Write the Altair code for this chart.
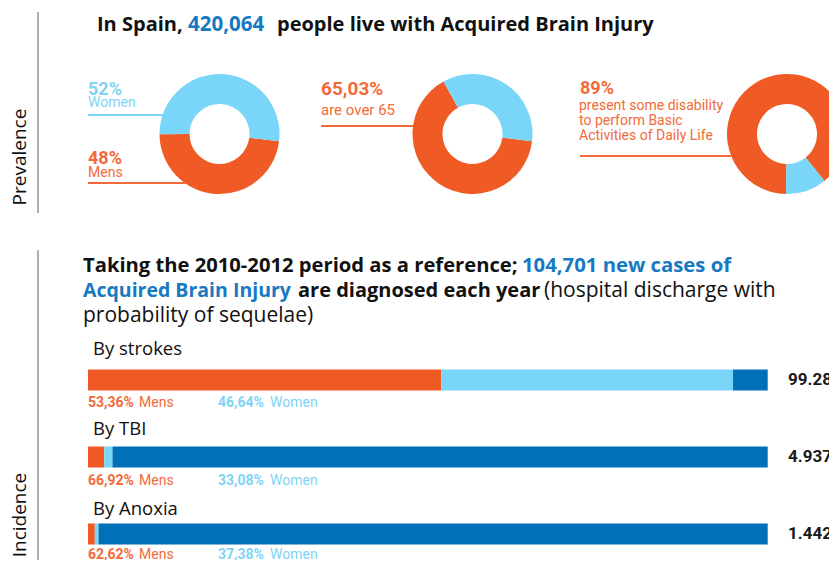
import math
import altair as alt
import pandas as pd

# ---------------- data ----------------
title_parts = ["In Spain,", "420,064", "people live with Acquired Brain Injury"]

sex_categories = ["Mens", "Women"]
sex_share = [48, 52]
age_categories = ["Over 65", "65 or under"]
age_share = [65.03, 34.97]
disab_categories = ["Some disability for BADL", "No disability for BADL"]
disab_share = [89, 11]

incidence_line1 = ["Taking the 2010-2012 period as a reference;", "104,701 new cases of"]
incidence_line2 = ["Acquired Brain Injury", "are diagnosed each year", "(hospital discharge with"]
incidence_line3 = ["probability of sequelae)"]

causes = ["By strokes", "By TBI", "By Anoxia"]
cases_labels = ["99.28", "4.937", "1.442"]
mens_pct = [53.36, 66.92, 62.62]
women_pct = [46.64, 33.08, 37.38]
segments = ["Mens", "Women", "Other causes"]
# bar segment lengths (% of the full bar)
bar_mens = [52.0, 2.4, 1.0]
bar_women = [42.9, 1.2, 0.55]
bar_other = [5.1, 96.4, 98.45]

# ---------------- styles ----------------
OFF = 8
ORANGE = "#F05A24"
ORANGE_T = "#F26A3A"
LBLUE = "#7AD6F9"
LBLUE_T = "#7FD3F5"
DBLUE = "#0070BB"
TBLUE = "#1679C1"
GREY = "#B0B0B0"
HEAD = "Open Sans"
LAB = "Roboto"

color_scale = alt.Scale(
    domain=sex_categories + age_categories + disab_categories + ["Other causes"],
    range=[ORANGE, LBLUE, ORANGE, LBLUE, ORANGE, LBLUE, DBLUE],
)


def txt(s, x, y, size, color="#111111", weight="normal", font=HEAD, angle=0,
        baseline="alphabetic", align="left"):
    return alt.Chart(pd.DataFrame({"t": [s]})).mark_text(
        align=align, baseline=baseline, font=font, fontSize=size,
        fontWeight=weight, color=color, angle=angle,
    ).encode(x=alt.value(x - OFF), y=alt.value(y - OFF), text="t:N")


def rule(x, y, x2, y2, color, w=2):
    return alt.Chart(pd.DataFrame({"a": [0]})).mark_rule(
        color=color, strokeWidth=w
    ).encode(x=alt.value(x - OFF), y=alt.value(y - OFF),
             x2=alt.value(x2 - OFF), y2=alt.value(y2 - OFF))


def donut(cats, vals, cx, cy, start_deg):
    df = pd.DataFrame({"cat": cats, "v": vals, "o": list(range(len(cats)))})
    a = math.radians(start_deg)
    return alt.Chart(df).mark_arc(radius=60, innerRadius=30).encode(
        x=alt.value(cx - OFF), y=alt.value(cy - OFF),
        theta=alt.Theta("v:Q", stack=True,
                        scale=alt.Scale(range=[a, a + 2 * math.pi])),
        color=alt.Color("cat:N", scale=color_scale, legend=None),
        order=alt.Order("o:Q"),
    )


layers = []

# section lines and side titles
layers.append(rule(38, 12, 38, 213, GREY))
layers.append(rule(38, 250, 38, 575, GREY))
layers.append(txt("Prevalence", 20, 157, 19, angle=270, baseline="middle", align="center"))
layers.append(txt("Incidence", 20, 515, 19, angle=270, baseline="middle", align="center"))

# headline
layers.append(txt(title_parts[0], 97, 31, 20, weight="bold"))
layers.append(txt(title_parts[1], 188, 31, 20.5, color=TBLUE, weight="bold"))
layers.append(txt(title_parts[2], 277, 31, 20, weight="bold"))

# donuts
layers.append(donut(sex_categories, sex_share, 219.5, 134, 97))
layers.append(donut(age_categories, age_share, 472.5, 134, 97))
layers.append(donut(disab_categories, disab_share, 787, 134, 181))

# donut labels
layers.append(txt(f"{sex_share[1]}%", 88, 95, 18, color=LBLUE_T, weight="bold", font=LAB))
layers.append(txt(sex_categories[1], 88, 107, 14, color=LBLUE_T, font=LAB))
layers.append(rule(88, 115, 163, 115, LBLUE))
layers.append(txt(f"{sex_share[0]}%", 88, 164, 18, color=ORANGE_T, weight="bold", font=LAB))
layers.append(txt(sex_categories[0], 88, 177, 14, color=ORANGE_T, font=LAB))
layers.append(rule(88, 183, 185, 183, ORANGE_T))

layers.append(txt(f"{age_share[0]:.2f}%".replace(".", ","), 321, 95, 19,
                  color=ORANGE_T, weight="bold", font=LAB))
layers.append(txt("are over 65", 321, 115, 15, color=ORANGE_T, font=LAB))
layers.append(rule(321, 126, 413, 126, ORANGE_T))

layers.append(txt(f"{disab_share[0]}%", 580, 94, 18, color=ORANGE_T, weight="bold", font=LAB))
layers.append(txt("present some disability", 579, 110, 14, color=ORANGE_T, font=LAB))
layers.append(txt("to perform Basic", 579, 125, 14, color=ORANGE_T, font=LAB))
layers.append(txt("Activities of Daily Life", 579, 140, 14, color=ORANGE_T, font=LAB))
layers.append(rule(580, 156, 731, 156, ORANGE_T))

# incidence headline
layers.append(txt(incidence_line1[0], 83, 272, 20.2, weight="bold"))
layers.append(txt(incidence_line1[1], 522, 272, 20.3, color=TBLUE, weight="bold"))
layers.append(txt(incidence_line2[0], 83, 297, 19.5, color=TBLUE, weight="bold"))
layers.append(txt(incidence_line2[1], 298, 297, 20, weight="bold"))
layers.append(txt(incidence_line2[2], 544, 297, 21))
layers.append(txt(incidence_line3[0], 83, 322, 21))

# cause titles
for c, yb in zip(causes, [355, 435, 515]):
    layers.append(txt(c, 93, yb, 18.5))

# stacked bars
rows = []
for c, m, w, o in zip(causes, bar_mens, bar_women, bar_other):
    for k, (s, v) in enumerate(zip(segments, [m, w, o])):
        rows.append({"cause": c, "seg": s, "v": v, "o": k})
bar_df = pd.DataFrame(rows)
y_scale = alt.Scale(domain=causes, range=[361.5, 536.5], paddingInner=0.727, paddingOuter=0)
bars = alt.Chart(bar_df).mark_bar().encode(
    x=alt.X("v:Q", stack="zero", axis=None,
            scale=alt.Scale(domain=[0, 100], range=[80, 759.7], nice=False)),
    y=alt.Y("cause:N", sort=causes, axis=None, scale=y_scale),
    color=alt.Color("seg:N", scale=color_scale, legend=None),
    order=alt.Order("o:Q"),
)
layers.append(bars)

# totals at right
tot_df = pd.DataFrame({"cause": causes, "lab": cases_labels})
totals = alt.Chart(tot_df).mark_text(
    align="left", baseline="middle", font=LAB, fontSize=17, fontWeight="bold", color="#1a1a1a"
).encode(
    x=alt.value(788 - OFF),
    y=alt.Y("cause:N", sort=causes, axis=None, scale=y_scale, bandPosition=0.5),
    text="lab:N",
)
layers.append(totals)

# percent labels under bars
for m, w, yb in zip(mens_pct, women_pct, [406.5, 485, 558.5]):
    layers.append(txt(f"{m:.2f}%".replace(".", ","), 88, yb, 14, color=ORANGE_T, weight="bold", font=LAB))
    layers.append(txt("Mens", 139, yb, 14, color=ORANGE_T, font=LAB))
    layers.append(txt(f"{w:.2f}%".replace(".", ","), 218, yb, 14, color=LBLUE_T, weight="bold", font=LAB))
    layers.append(txt("Women", 270, yb, 14, color=LBLUE_T, font=LAB))

chart = alt.layer(*layers).resolve_scale(theta="independent").properties(
    width=821, height=552, padding=0, autosize=alt.AutoSizeParams(type="none")
).configure_view(strokeWidth=0)

chart.save("out.html", embed_options={"renderer": "svg", "actions": False})
